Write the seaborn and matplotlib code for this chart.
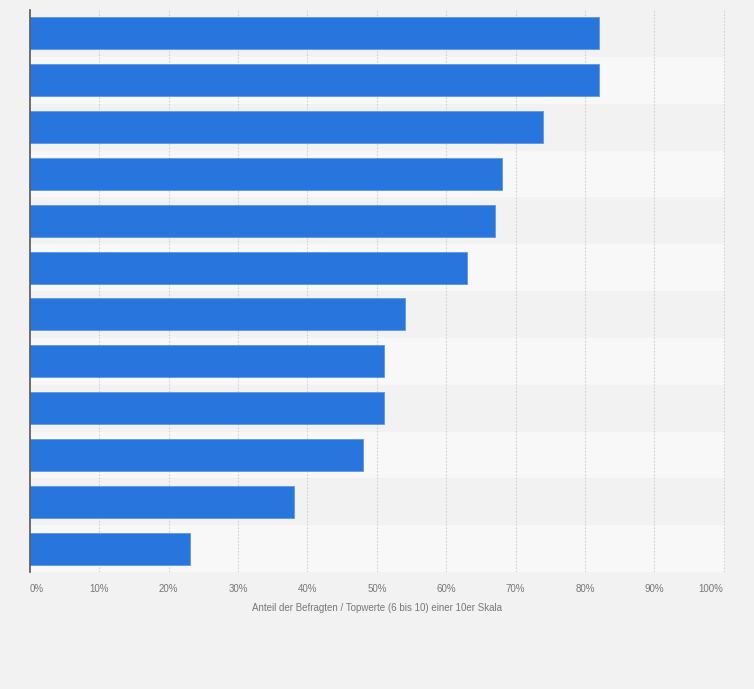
import numpy as np
import pandas as pd
import matplotlib
matplotlib.use("Agg")
import matplotlib.pyplot as plt
import seaborn as sns

# categories have no visible labels in the reference
categories = ["Item %d" % i for i in range(1, 13)]
values = [82, 82, 74, 68, 67, 63, 54, 51, 51, 48, 38, 23]
xticks = [0, 10, 20, 30, 40, 50, 60, 70, 80, 90, 100]
xlabel = "Anteil der Befragten / Topwerte (6 bis 10) einer 10er Skala"

df = pd.DataFrame({"Kategorie": categories, "Wert": values})

sns.set_style("white")
plt.rcParams["font.family"] = ["Liberation Sans", "DejaVu Sans"]

fig = plt.figure(figsize=(7.54, 6.89), dpi=100, facecolor="#f2f2f2")
ax = fig.add_axes([30 / 754, 1 - 572 / 689, 695 / 754, 562 / 689])
ax.set_facecolor("#f2f2f2")

# alternating row bands
for i in range(len(categories)):
    col = "#f2f2f2" if i % 2 == 0 else "#f8f8f8"
    ax.axhspan(i - 0.5, i + 0.5, color=col, zorder=0, lw=0)

sns.barplot(data=df, x="Wert", y="Kategorie", orient="h", color="#2876dd",
            saturation=1, width=0.68, ax=ax, zorder=3,
            edgecolor="#5d98e6", linewidth=0.6)

ax.set_xlim(0, 100.2)
ax.set_ylim(len(categories) - 0.5, -0.5)
ax.set_xticks(xticks)
ax.set_xticklabels([f"{t}%" for t in xticks], color="#777777", fontsize=7)
ax.tick_params(axis="x", length=0, pad=9)
labels = ax.get_xticklabels()
labels[0].set_horizontalalignment("left")
labels[-1].set_horizontalalignment("right")
ax.set_yticks([])
ax.set_ylabel("")
ax.set_xlabel(xlabel, color="#777777", fontsize=7, labelpad=6)

for t in xticks[1:]:
    ax.axvline(t, color="#d0d0d0", ls=(0, (1.5, 1.5)), lw=0.8, zorder=1)

for s in ["top", "right", "bottom"]:
    ax.spines[s].set_visible(False)
ax.spines["left"].set_color("#555555")
ax.spines["left"].set_linewidth(1.2)
ax.spines["left"].set_zorder(5)

fig.savefig("out.png", dpi=100, facecolor=fig.get_facecolor())
